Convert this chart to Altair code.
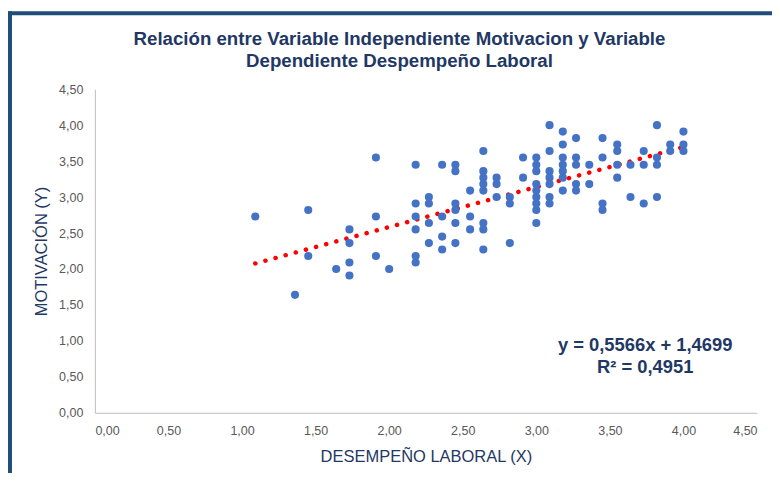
import altair as alt
import pandas as pd

# Desempeño laboral (X) and Motivación (Y)
desempeno = (
    [1.09] + [1.36] + [1.45] * 2 + [1.64] + [1.73] * 4 + [1.91] * 3 + [2.00]
    + [2.18] * 6 + [2.27] * 4 + [2.36] * 4 + [2.45] * 6 + [2.55] * 3
    + [2.64] * 8 + [2.73] * 3 + [2.82] * 3 + [2.91] * 2 + [3.00] * 9
    + [3.09] * 7 + [3.18] * 7 + [3.27] * 5 + [3.36] * 2 + [3.45] * 4
    + [3.55] * 4 + [3.64] * 2 + [3.73] * 3 + [3.82] * 4 + [3.91] * 2 + [4.00] * 3
)
motivacion = [
    2.73,
    1.64,
    2.82, 2.18,
    2.00,
    2.55, 2.36, 2.09, 1.91,
    3.55, 2.73, 2.18,
    2.00,
    3.45, 2.91, 2.73, 2.55, 2.18, 2.09,
    3.00, 2.91, 2.64, 2.36,
    3.45, 2.73, 2.45, 2.27,
    3.45, 3.36, 2.91, 2.82, 2.64, 2.36,
    3.09, 2.73, 2.55,
    3.64, 3.36, 3.27, 3.18, 3.09, 2.64, 2.55, 2.27,
    3.27, 3.18, 3.00,
    3.00, 2.91, 2.36,
    3.55, 3.27,
    3.55, 3.45, 3.36, 3.18, 3.09, 3.00, 2.91, 2.82, 2.64,
    4.00, 3.64, 3.36, 3.27, 3.18, 3.00, 2.91,
    3.91, 3.73, 3.55, 3.45, 3.36, 3.27, 3.09,
    3.82, 3.55, 3.45, 3.18, 3.09,
    3.45, 3.18,
    3.82, 3.55, 2.91, 2.82,
    3.73, 3.64, 3.45, 3.27,
    3.45, 3.00,
    3.64, 3.45, 2.91,
    4.00, 3.55, 3.45, 3.00,
    3.73, 3.64,
    3.91, 3.73, 3.64,
]

slope = 0.5566
intercept = 1.4699
eq_line1 = "y = 0,5566x + 1,4699"
eq_line2 = "R² = 0,4951"

title_line1 = "Relación entre Variable Independiente Motivacion y Variable"
title_line2 = "Dependiente Despempeño Laboral"
x_title = "DESEMPEÑO LABORAL (X)"
y_title = "MOTIVACIÓN (Y)"
tick_values = [0, 0.5, 1.0, 1.5, 2.0, 2.5, 3.0, 3.5, 4.0, 4.5]

df = pd.DataFrame({"x": desempeno, "y": motivacion})
x_min, x_max = min(desempeno), max(desempeno)
trend_df = pd.DataFrame({
    "x": [x_min, x_max],
    "y": [slope * x_min + intercept, slope * x_max + intercept],
})
one = pd.DataFrame({"k": [0]})

NAVY = "#1F3864"
label_expr = "replace(format(datum.value, '.2f'), '.', ',')"

x_enc = alt.X(
    "x:Q",
    scale=alt.Scale(domain=[0, 4.5], nice=False),
    axis=alt.Axis(
        values=tick_values, labelExpr=label_expr, title=x_title,
        grid=False, ticks=False, domainColor="#BFBFBF", labelOverlap=False,
        labelColor="#595959", labelFontSize=12.5, labelFont="Liberation Sans",
        labelPadding=12,
        titleFont="Liberation Sans", titleFontSize=16.5, titleFontWeight="normal",
        titleColor=NAVY, titleX=331.5, titleY=44, titleBaseline="middle",
        titleAlign="center",
    ),
)
y_enc = alt.Y(
    "y:Q",
    scale=alt.Scale(domain=[0, 4.5], nice=False),
    axis=alt.Axis(
        values=tick_values, labelExpr=label_expr, title=y_title,
        grid=False, ticks=False, domainColor="#BFBFBF", labelOverlap=False,
        labelColor="#595959", labelFontSize=12.5, labelFont="Liberation Sans",
        labelPadding=12,
        titleFont="Liberation Sans", titleFontSize=16.5, titleFontWeight="normal",
        titleColor=NAVY, titleX=-53, titleY=162, titleBaseline="middle",
        titleAlign="center", titleAngle=270,
    ),
)

points = alt.Chart(df).mark_circle(size=66, color="#4472C4", opacity=1).encode(
    x=x_enc, y=y_enc
)

trend = alt.Chart(trend_df).mark_line(
    color="#FF0000", strokeWidth=4.5, strokeCap="round", strokeDash=[0.1, 10.4]
).encode(x=x_enc, y=y_enc)


def label(text, x, y, size):
    return alt.Chart(one).mark_text(
        font="Liberation Sans", fontSize=size, fontWeight="bold", color=NAVY,
        align="center", baseline="middle",
    ).encode(x=alt.value(x), y=alt.value(y), text=alt.value(text))


eq1 = label(eq_line1, 551, 256, 18.4)
eq2 = label(eq_line2, 551, 278, 18.4)
t1 = label(title_line1, 305, -50, 18.7)
t2 = label(title_line2, 305, -28, 18.7)

border_left = alt.Chart(one).mark_rule(color="#1F4E79", strokeWidth=4).encode(
    x=alt.value(-85), y=alt.value(-78), y2=alt.value(420)
)
border_top = alt.Chart(one).mark_rule(color="#1F4E79", strokeWidth=4).encode(
    x=alt.value(-87), x2=alt.value(720), y=alt.value(-76)
)

chart = alt.layer(border_left, border_top, trend, points, eq1, eq2, t1, t2).properties(
    width=663,
    height=324,
    padding={"left": 87, "top": 81, "right": 15, "bottom": 60},
    autosize="none",
    background="white",
).configure_view(strokeWidth=0)

chart.save("out.html", embed_options={"renderer": "svg", "actions": False})
